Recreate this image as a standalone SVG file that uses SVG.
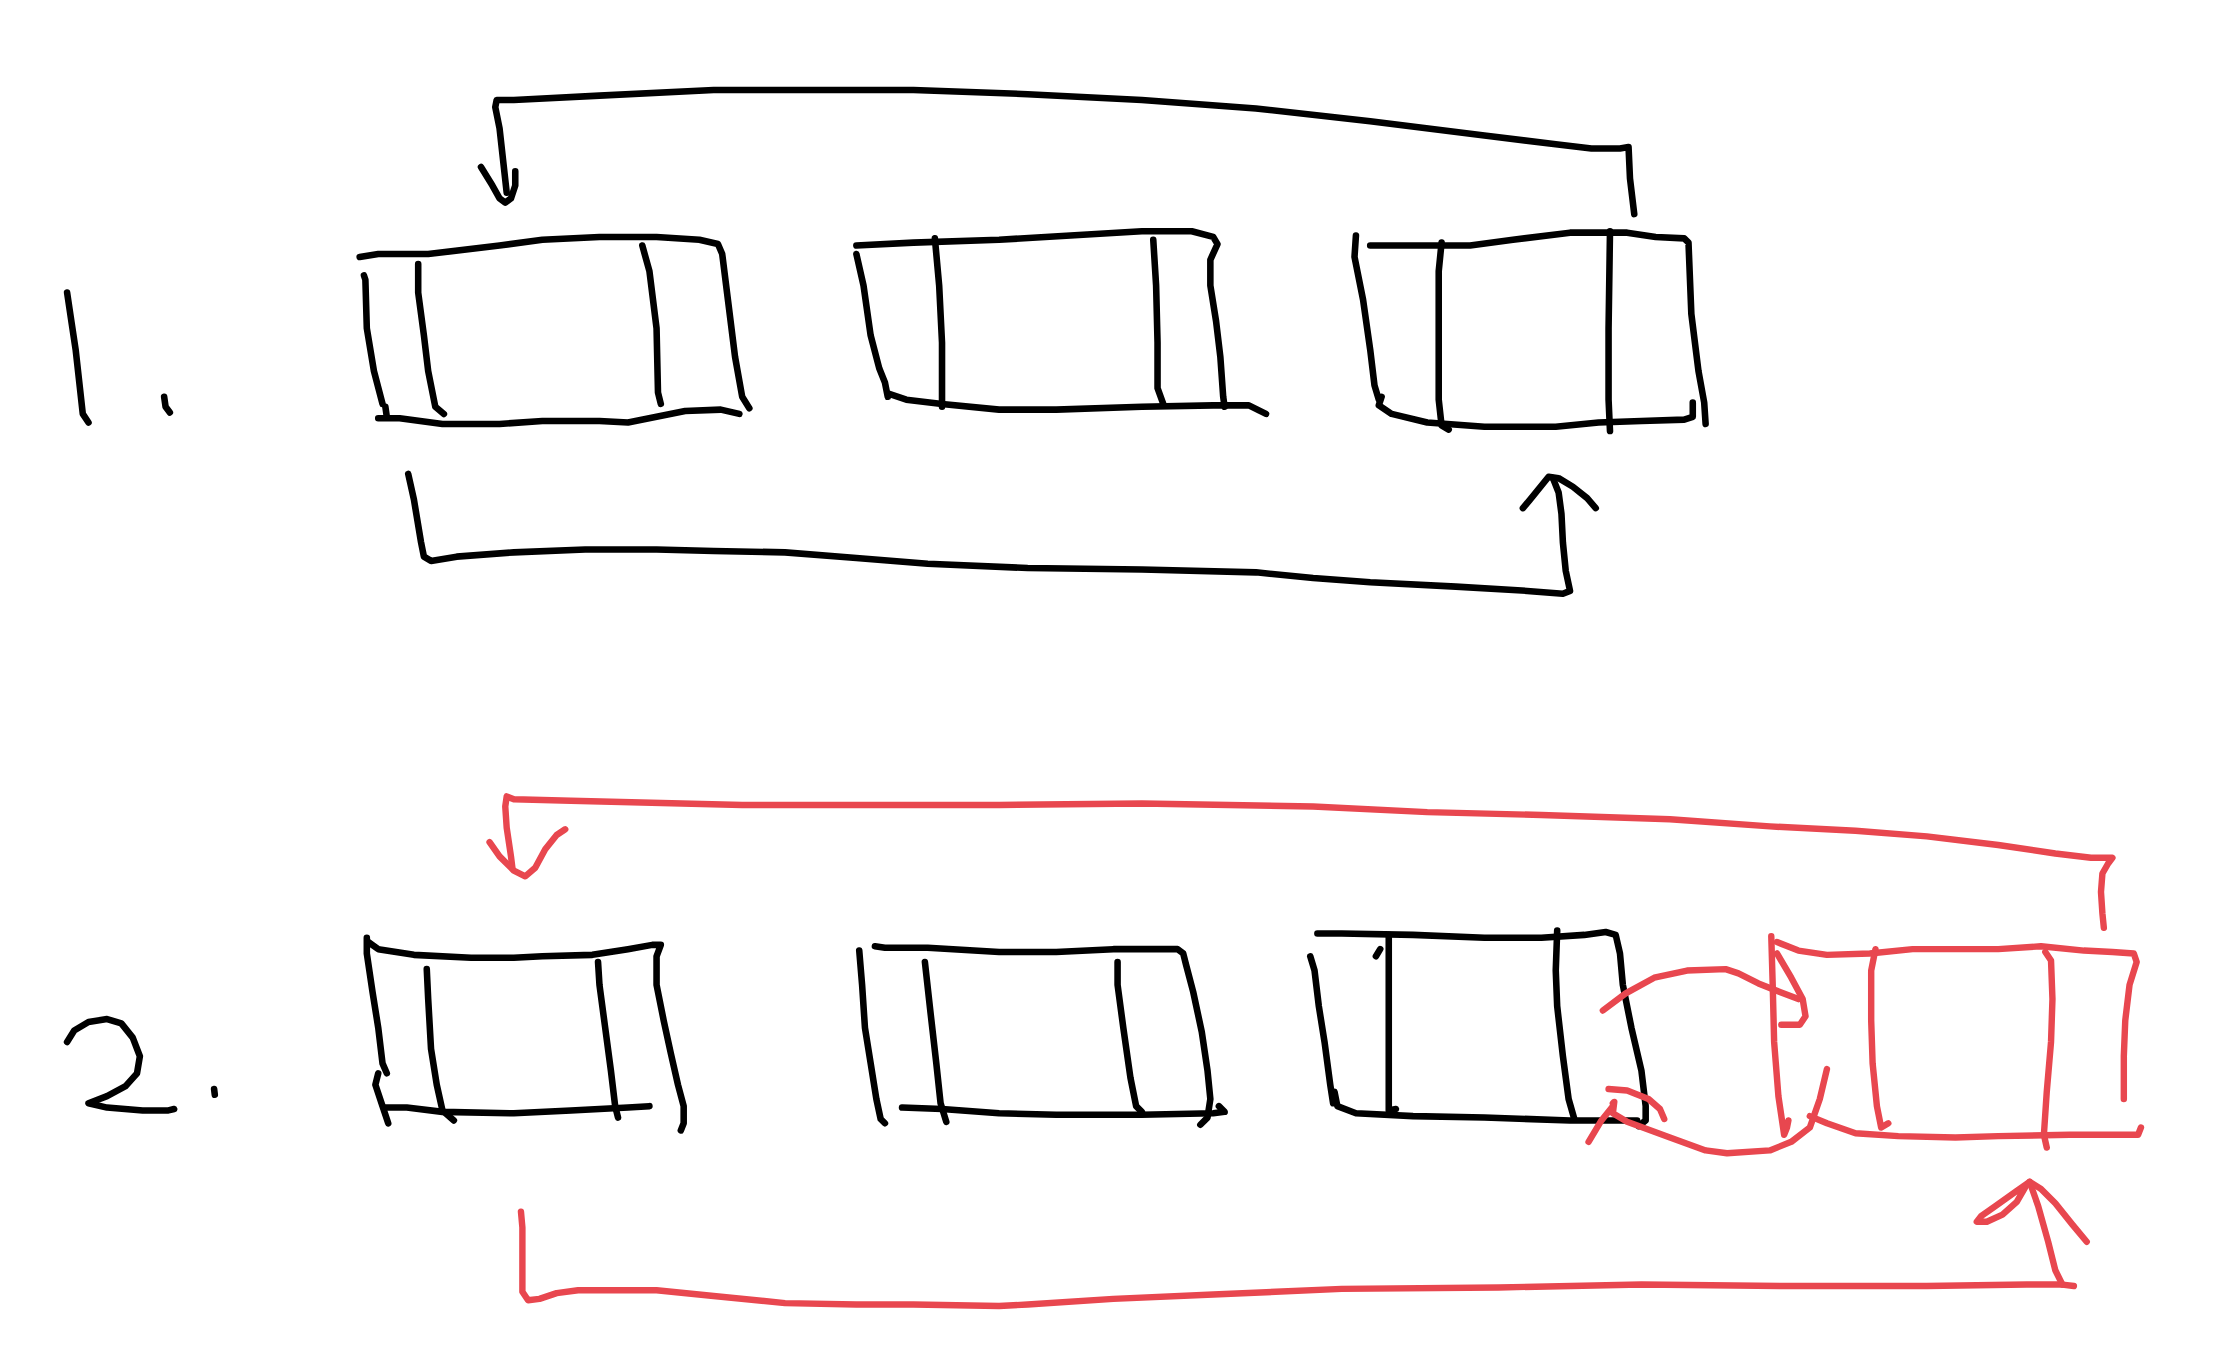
<svg xmlns="http://www.w3.org/2000/svg" width="2238" height="1364" viewBox="0 0 2238 1364">
<style>
.k{fill:none;stroke:#000;stroke-width:4.6;stroke-linecap:round;stroke-linejoin:round}
.r{fill:none;stroke:#e8474f;stroke-width:4.5;stroke-linecap:round;stroke-linejoin:round}
</style>
<rect width="2238" height="1364" fill="#fff"/>
<g transform="scale(1.4273)">
<g id="label1">
<path class="k" d="M47,205 L50,225 L53,245 L56,272 L58,290 L62,296"/>
<path class="k" d="M115,278 L116,285 L119,289"/>
</g>
<g id="box1a">
<path class="k" d="M252,180 L265,178 L300,178 L350,172 L380,168 L420,166 L460,166 L490,168 L503,171 L506,178 L510,210 L515,250 L520,278 L525,286"/>
<path class="k" d="M255,193 L256,196 L257,230 L262,260 L268,283"/>
<path class="k" d="M293,185 L293,205 L297,235 L300,260 L305,285 L311,290"/>
<path class="k" d="M450,172 L455,190 L460,230 L461,275 L463,283"/>
<path class="k" d="M270,285 L271,292"/>
<path class="k" d="M265,293 L280,293 L310,297 L350,297 L380,295 L420,295 L440,296 L460,292 L480,288 L505,287 L518,290"/>
</g>
<g id="box1b">
<path class="k" d="M600,172 L640,170 L700,168 L750,165 L800,162 L835,162 L850,166 L853,171 L848,182 L848,200 L852,225 L855,250 L857,278 L858,285"/>
<path class="k" d="M600,178 L605,200 L610,235 L616,258 L620,268 L622,278"/>
<path class="k" d="M655,167 L658,200 L660,240 L660,285"/>
<path class="k" d="M808,168 L810,200 L811,240 L811,272 L815,283"/>
<path class="k" d="M623,276 L635,280 L660,283 L700,287 L740,287 L800,285 L850,284 L875,284 L887,290"/>
</g>
<g id="box1c">
<path class="k" d="M950,165 L949,180 L955,210 L960,245 L963,270 L966,280"/>
<path class="k" d="M960,172 L1030,172 L1060,168 L1100,163 L1140,163 L1160,166 L1180,167 L1183,170 L1185,220 L1190,260 L1194,282 L1195,297"/>
<path class="k" d="M1010,170 L1008,190 L1008,280 L1010,298 L1015,301"/>
<path class="k" d="M1128,162 L1127,230 L1127,280 L1128,302"/>
<path class="k" d="M968,278 L966,284 L975,290 L1000,296 L1040,299 L1090,299 L1120,296 L1150,295 L1180,294 L1186,292 L1186,282"/>
</g>
<g id="label2">
<path class="k" d="M47,730 L52,722 L62,716 L75,714 L85,717 L93,727 L98,740 L96,752 L88,761 L75,768 L62,773 L75,776 L100,778 L118,778 L122,777"/>
<path class="k" d="M150,763 L150.5,767"/>
</g>
<g id="box2a">
<path class="k" d="M257,657 L257,668 L261,695 L265,720 L268,745 L271,752"/>
<path class="k" d="M258,660 L265,665 L290,669 L330,671 L360,671 L380,670 L415,669 L440,665 L457,662 L463,662 L460,670 L460,690 L465,715 L470,738 L475,760 L479,775 L479,787 L477,792"/>
<path class="k" d="M299,679 L300,700 L302,735 L306,760 L310,778 L318,785"/>
<path class="k" d="M419,674 L420,690 L424,720 L428,750 L431,775 L433,783"/>
<path class="k" d="M270,776 L285,776 L310,779 L360,780 L400,778 L440,776 L455,775"/>
<path class="k" d="M265,752 L263,760 L268,775 L272,787"/>
</g>
<g id="box2b">
<path class="k" d="M602,666 L604,690 L606,720 L610,745 L614,770 L617,784 L620,787"/>
<path class="k" d="M613,663 L620,664 L650,664 L700,667 L740,667 L780,665 L825,665 L829,668 L831,676 L836,695 L842,723 L846,750 L848,770 L846,783 L841,788"/>
<path class="k" d="M648,674 L652,710 L656,745 L659,773 L663,786"/>
<path class="k" d="M783,674 L783,690 L787,720 L792,755 L796,775 L800,779"/>
<path class="k" d="M632,776 L660,777 L700,780 L740,781 L800,781 L850,780 L858,779 L854,775"/>
</g>
<g id="box2c">
<path class="k" d="M918,670 L921,680 L924,705 L928,730 L932,760 L934,773"/>
<path class="k" d="M923,654 L940,654 L990,655 L1040,657 L1080,657 L1110,655 L1125,653 L1132,655 L1135,668 L1137,690 L1143,720 L1150,750 L1153,775 L1153,785 L1148,789"/>
<path class="k" d="M973,655 L973,700 L973,750 L973,778 L978,777"/>
<path class="k" d="M967,665 L964,670"/>
<path class="k" d="M1091,652 L1090,680 L1091,705 L1095,740 L1099,770 L1103,784"/>
<path class="k" d="M935,765 L937,775 L950,780 L990,782 L1040,783 L1100,785 L1147,785"/>
</g>
<g id="box2d">
<path class="r" d="M1245,660 L1260,666 L1280,669 L1310,668 L1340,665 L1400,665 L1430,663 L1460,666 L1480,667 L1495,668 L1497,674 L1492,690 L1489,715 L1488,740 L1488,770"/>
<path class="r" d="M1314,665 L1311,680 L1311,715 L1312,745 L1315,775 L1318,790 L1323,787"/>
<path class="r" d="M1433,667 L1437,673 L1438,700 L1437,730 L1434,765 L1432,795 L1434,804"/>
<path class="r" d="M1268,782 L1280,787 L1300,794 L1330,796 L1370,797 L1400,796 L1450,795 L1498,795 L1500,790"/>
</g>
<g id="connectors">
<path class="k" d="M1145,150 L1142,125 L1141,103 L1135,104 L1115,104 L1090,101 L1040,95 L960,85 L880,76 L800,70 L720,66 L640,63 L500,63 L420,67 L360,70 L348,70 L347,75 L350,90 L355,135"/>
<path class="k" d="M337,117 L345,130 L350,139 L354,142 L358,139 L361,130 L361,120"/>
<path class="k" d="M286,332 L290,350 L295,380 L297,390 L302,393 L320,390 L360,387 L410,385 L460,385 L500,386 L550,387 L600,391 L650,395 L720,398 L800,399 L880,401 L920,405 L960,408 L1020,411 L1070,414 L1095,416 L1100,414 L1097,400 L1095,380 L1094,360 L1092,345 L1088,335"/>
<path class="k" d="M1067,356 L1072,350 L1085,334 L1092,335 L1102,341 L1112,349 L1118,356"/>
<path class="r" d="M1474,650 L1473,640 L1472,625 L1473,612 L1477,605 L1480,601 L1475,601 L1465,601 L1440,598 L1400,592 L1350,586 L1300,582 L1240,579 L1170,574 L1080,571 L1000,569 L920,565 L800,563 L700,564 L600,564 L520,564 L400,561 L360,560 L355,558 L354,565 L355,580 L358,600 L359,608"/>
<path class="r" d="M343,590 L350,600 L360,610 L368,614 L375,608 L382,595 L390,585 L396,581"/>
<path class="r" d="M365,849 L366,860 L366,885 L366,905 L370,911 L378,910 L390,906 L405,904 L460,904 L500,908 L550,913 L600,914 L640,914 L700,915 L720,914 L780,910 L850,907 L940,903 L1050,902 L1150,900 L1250,901 L1350,901 L1420,900 L1445,900 L1453,901"/>
<path class="r" d="M1445,900 L1440,890 L1435,870 L1428,845 L1422,828"/>
<path class="r" d="M1462,870 L1452,858 L1440,843 L1430,833 L1422,828 L1412,835 L1398,845 L1388,852 L1385,856 L1392,856 L1403,851 L1413,842 L1420,830"/>
<path class="r" d="M1123,708 L1139,696 L1159,685 L1182,680 L1209,679 L1218,682 L1232,689 L1247,695 L1260,700"/>
<path class="r" d="M1245,668 L1255,685 L1263,700 L1265,712 L1261,718 L1248,718"/>
<path class="r" d="M1241,656 L1242,690 L1243,730 L1246,768 L1250,795 L1252,790 L1253,785"/>
<path class="r" d="M1280,749 L1275,770 L1268,790 L1255,800 L1240,806 L1210,808 L1195,806 L1170,797 L1140,786 L1130,780 L1131,772 L1130,773"/>
<path class="r" d="M1113,800 L1122,785 L1130,775"/>
<path class="r" d="M1127,763 L1140,764 L1155,770 L1163,777 L1166,784"/>
</g>
</g>
</svg>
